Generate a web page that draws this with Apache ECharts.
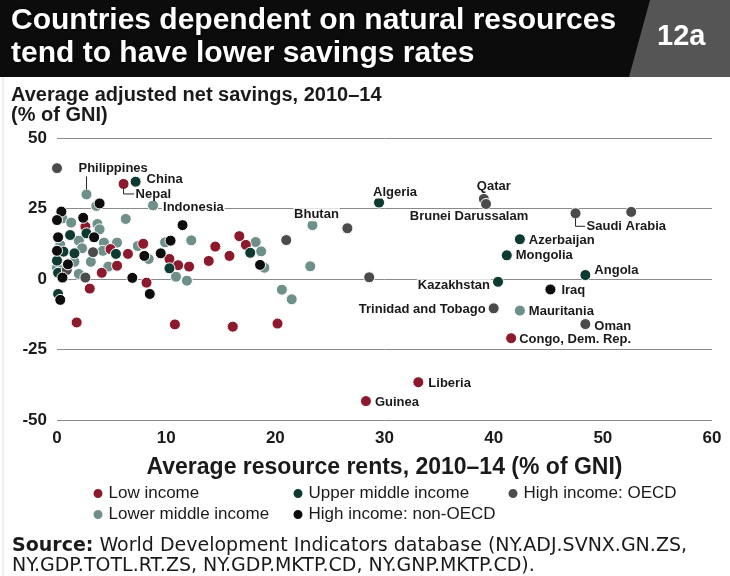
<!DOCTYPE html>
<html>
<head>
<meta charset="utf-8">
<script src="https://cdn.jsdelivr.net/npm/echarts@6/dist/echarts.min.js"></script>
<style>
  html, body { margin: 0; padding: 0; background: #fff; }
  #chart { width: 730px; height: 576px; }
</style>
</head>
<body>
<div id="chart"></div>
<script>
// [resource rents % GNI, adjusted net savings % GNI, optional country name]
const lowIncome = [
  [6.1, 33.7, 'Nepal'], [2.6, 18.6], [4.9, 10.6], [6.5, 8.9], [5.5, 4.7], [4.1, 2.2],
  [3.0, -3.4], [8.2, -1.3], [7.9, 12.5], [10.3, 7.1], [11.1, 4.9], [12.1, 4.4],
  [13.9, 6.4], [14.5, 11.5], [15.8, 8.2], [16.7, 15.2], [17.3, 12.1], [1.8, -15.4],
  [10.8, -16.1], [16.1, -16.9], [20.2, -15.8], [41.6, -21.0, 'Congo, Dem. Rep.'],
  [33.1, -36.6, 'Liberia'], [28.3, -43.3, 'Guinea']
];
const lowerMiddle = [
  [2.7, 30.0, 'Philippines'], [8.8, 26.1, 'Indonesia'], [3.6, 25.9], [6.3, 21.3],
  [0.5, 21.5], [1.3, 20.0], [3.7, 19.5], [3.9, 17.6], [2.0, 13.6], [0.3, 12.1],
  [4.3, 12.9], [5.5, 12.9], [2.3, 10.9], [4.2, 10.0], [3.1, 6.1], [1.6, 6.1],
  [4.7, 4.4], [0.0, 4.0], [2.0, 1.8], [7.4, 11.7], [9.9, 13.0], [12.3, 13.7],
  [8.4, 7.1], [10.9, 0.8], [11.9, -0.6], [18.2, 13.1], [18.7, 9.8], [19.0, 4.0],
  [23.2, 4.5], [23.4, 19.1, 'Bhutan'], [20.6, -3.8], [21.5, -7.2],
  [42.4, -11.2, 'Mauritania']
];
const upperMiddle = [
  [7.2, 34.5, 'China'], [2.7, 16.2], [1.2, 15.6], [0.6, 9.7], [1.6, 9.1], [5.4, 8.9],
  [0.0, 6.5], [0.1, 2.2], [10.3, 3.8], [17.7, 9.3], [0.1, -5.3],
  [29.5, 27.1, 'Algeria'], [42.4, 14.1, 'Azerbaijan'], [41.2, 8.4, 'Mongolia'],
  [48.4, 1.4, 'Angola'], [40.4, -1.0, 'Kazakhstan']
];
const highOECD = [
  [0.0, 39.3], [3.3, 9.5], [0.9, 3.2], [2.6, 0.5], [21.0, 13.8], [26.6, 18.0],
  [28.6, 0.6], [47.5, 23.3, 'Saudi Arabia'], [52.6, 23.8], [39.1, 28.4, 'Qatar'],
  [39.3, 26.6, 'Brunei Darussalam'], [40.0, -10.4, 'Trinidad and Tobago'],
  [48.4, -16.0, 'Oman']
];
const highNonOECD = [
  [3.9, 26.8], [2.4, 21.7], [0.4, 23.9], [0.0, 20.9], [3.4, 14.8], [0.1, 14.8],
  [0.0, 10.0], [1.0, 5.2], [0.5, 0.5], [6.9, 0.4], [11.5, 19.1], [10.4, 13.6],
  [9.5, 9.1], [8.0, 8.2], [8.5, -5.3], [0.3, -7.4], [18.6, 5.0], [45.2, -3.7, 'Iraq']
];
const xTicks = [0, 10, 20, 30, 40, 50, 60];
const yTicks = [-50, -25, 0, 25, 50];

// where each country label sits relative to its dot; leader: 'up' or 'elbow'
const labelPos = {
  'Philippines': { position: 'right', offset: [-20, -26], leader: 'up' },
  'China': { position: 'right', offset: [-1, -2] },
  'Nepal': { position: 'right', offset: [0, 10], leader: 'elbow' },
  'Indonesia': { position: 'right', offset: [-2, 2] },
  'Bhutan': { position: 'top', offset: [4, 4] },
  'Algeria': { position: 'top', offset: [16, 4] },
  'Qatar': { position: 'top', offset: [10, 2] },
  'Brunei Darussalam': { position: 'bottom', offset: [-17, -2] },
  'Saudi Arabia': { position: 'right', offset: [-1, 13], leader: 'elbow' },
  'Azerbaijan': { position: 'right', offset: [-3, 1] },
  'Mongolia': { position: 'right', offset: [-3, 0] },
  'Angola': { position: 'right', offset: [-3, -5] },
  'Kazakhstan': { position: 'left', offset: [4, 4] },
  'Iraq': { position: 'right', offset: [-1, 1] },
  'Trinidad and Tobago': { position: 'left', offset: [4, 1] },
  'Mauritania': { position: 'right', offset: [-3, 1] },
  'Oman': { position: 'right', offset: [-3, 2] },
  'Congo, Dem. Rep.': { position: 'right', offset: [-4, 1] },
  'Liberia': { position: 'right', offset: [-2, 1] },
  'Guinea': { position: 'right', offset: [-3, 1] }
};

const SANS = '"Liberation Sans", Arial, sans-serif';
const WIDE = '"DejaVu Sans", Verdana, sans-serif';

function toItems(arr) {
  return arr.map(function (d) {
    const item = { value: [d[0], d[1]] };
    if (d[2]) {
      const p = labelPos[d[2]];
      item.name = d[2];
      item.label = {
        show: true,
        formatter: d[2],
        position: p.position,
        offset: p.offset,
        distance: p.position === 'top' || p.position === 'bottom' ? 2 : 5
      };
    }
    return item;
  });
}

function makeSeries(name, arr, color) {
  return {
    name: name,
    type: 'scatter',
    symbolSize: 11,
    itemStyle: { color: color, borderColor: '#fff', borderWidth: 1, opacity: 1 },
    label: {
      show: false,
      color: '#1a1a1a',
      fontFamily: SANS,
      fontWeight: 'bold',
      fontSize: 13,
      backgroundColor: '#fff',
      padding: [0, 1]
    },
    emphasis: { disabled: true },
    data: toItems(arr)
  };
}

const staticGraphics = [
  { type: 'rect', shape: { x: 0, y: 0, width: 730, height: 77 }, style: { fill: '#0c0c0c' } },
  {
    type: 'polygon',
    shape: { points: [[650, 0], [730, 0], [730, 77], [629, 77]] },
    style: { fill: '#555' }
  },
  {
    type: 'text', left: 11, top: 4,
    style: {
      text: 'Countries dependent on natural resources\ntend to have lower savings rates',
      fill: '#fff', font: 'bold 30px ' + SANS, lineHeight: 33,
      textShadowColor: '#000', textShadowBlur: 3
    }
  },
  {
    type: 'text', left: 657, top: 22,
    style: { text: '12a', fill: '#fff', font: 'bold 29px ' + SANS }
  },
  { type: 'line', shape: { x1: 3, y1: 77, x2: 3, y2: 576 }, style: { stroke: '#ddd', lineWidth: 1 } },
  {
    type: 'text', left: 11, top: 85,
    style: {
      text: 'Average adjusted net savings, 2010\u201314\n(% of GNI)',
      fill: '#1a1a1a', font: 'bold 20px ' + SANS, lineHeight: 20
    }
  },
  {
    type: 'text', left: 12, top: 536,
    style: {
      text: '{b|Source:} World Development Indicators database (NY.ADJ.SVNX.GN.ZS,\nNY.GDP.TOTL.RT.ZS, NY.GDP.MKTP.CD, NY.GNP.MKTP.CD).',
      fill: '#1a1a1a', font: '19px ' + WIDE, lineHeight: 20,
      rich: { b: { font: 'bold 19px ' + WIDE, fill: '#1a1a1a' } }
    }
  }
];

const chart = echarts.init(document.getElementById('chart'));
const legendText = { fontFamily: SANS, fontSize: 17, color: '#1a1a1a' };
const legendBase = {
  orient: 'vertical', top: 485, padding: 0, itemGap: 4,
  itemWidth: 11, itemHeight: 11, icon: 'circle',
  textStyle: legendText, selectedMode: false
};

chart.setOption({
  animation: false,
  backgroundColor: '#fff',
  graphic: staticGraphics,
  grid: { left: 57, right: 18, top: 138, bottom: 156 },
  xAxis: {
    type: 'value',
    min: xTicks[0], max: xTicks[xTicks.length - 1], interval: 10,
    name: 'Average resource rents, 2010\u201314 (% of GNI)',
    nameLocation: 'middle', nameGap: 36,
    nameTextStyle: { fontFamily: SANS, fontWeight: 'bold', fontSize: 23, color: '#1a1a1a' },
    axisLine: { show: false },
    axisTick: { show: false },
    splitLine: { show: false },
    axisLabel: { margin: 10, fontFamily: SANS, fontWeight: 'bold', fontSize: 17, color: '#1a1a1a' }
  },
  yAxis: {
    type: 'value',
    min: yTicks[0], max: yTicks[yTicks.length - 1], interval: 25,
    axisLine: { show: false },
    axisTick: { show: false },
    splitLine: { lineStyle: { color: '#8a8a8a', width: 1 } },
    axisLabel: { margin: 10, fontFamily: SANS, fontWeight: 'bold', fontSize: 17, color: '#1a1a1a' }
  },
  legend: [
    Object.assign({}, legendBase, { data: ['Low income', 'Lower middle income'], left: 91.5 }),
    Object.assign({}, legendBase, { data: ['Upper middle income', 'High income: non-OECD'], left: 291.5 }),
    Object.assign({}, legendBase, { data: ['High income: OECD'], left: 506.5 })
  ],
  series: [
    makeSeries('Lower middle income', lowerMiddle, '#6f8f8a'),
    makeSeries('Low income', lowIncome, '#8a1a2c'),
    makeSeries('Upper middle income', upperMiddle, '#0f3a31'),
    makeSeries('High income: OECD', highOECD, '#4b4b4b'),
    makeSeries('High income: non-OECD', highNonOECD, '#0d0d0d')
  ]
});

// leader lines from dot to label, placed through the chart's own scales
const leaders = [];
[lowIncome, lowerMiddle, upperMiddle, highOECD, highNonOECD].forEach(function (arr) {
  arr.forEach(function (d) {
    if (!d[2] || !labelPos[d[2]].leader) return;
    const pt = chart.convertToPixel({ gridIndex: 0 }, [d[0], d[1]]);
    const p = labelPos[d[2]];
    let points;
    if (p.leader === 'up') {
      points = [[pt[0], pt[1] - 5], [pt[0], pt[1] + p.offset[1] + 8]];
    } else {
      const ty = pt[1] + p.offset[1];
      points = [[pt[0], pt[1] + 5], [pt[0], ty], [pt[0] + 5.5 + 5 + p.offset[0], ty]];
    }
    leaders.push({
      type: 'polyline', z: 10,
      shape: { points: points },
      style: { stroke: '#222', lineWidth: 1, fill: null }
    });
  });
});
chart.setOption({ graphic: staticGraphics.concat(leaders) });
</script>
</body>
</html>
